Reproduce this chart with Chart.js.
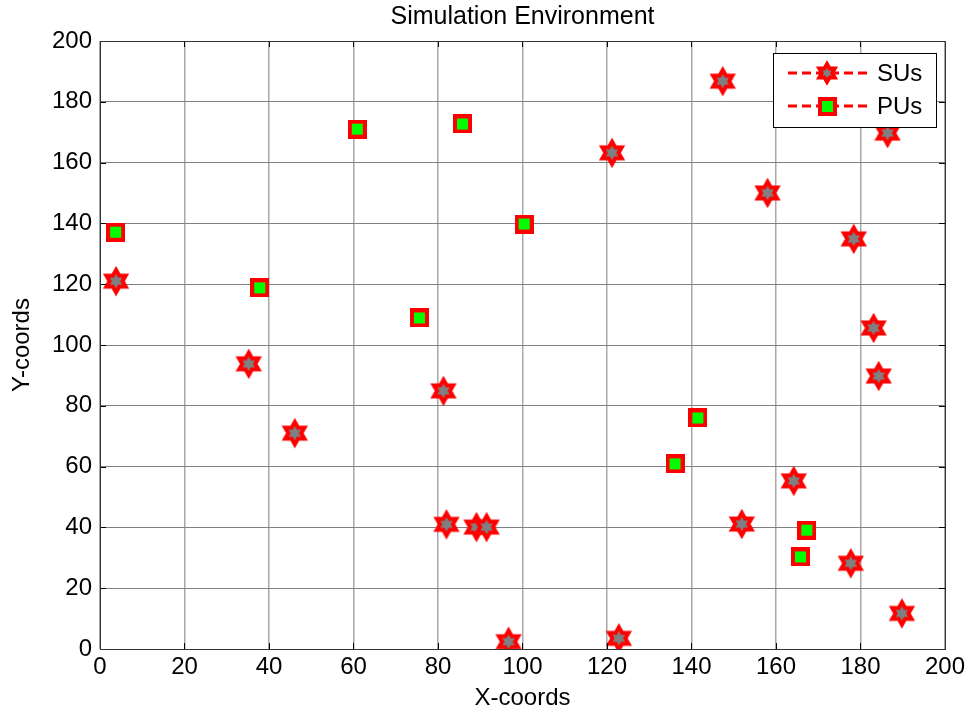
<!DOCTYPE html>
<html>
<head>
<meta charset="utf-8">
<script src="https://cdn.jsdelivr.net/npm/chart.js@4.4.1/dist/chart.umd.min.js"></script>
<style>
  html, body { margin: 0; padding: 0; background: #fff; }
  #wrap { width: 969px; height: 713px; }
</style>
</head>
<body>
<div id="wrap"><canvas id="c" width="969" height="713"></canvas></div>
<script>
// ---- data ----
const suX = [3.8, 35.2, 46.1, 81.3, 82.0, 89.1, 91.5, 96.7, 122.8, 121.2, 147.4, 158.0, 178.4, 186.4, 183.1, 184.3, 164.2, 151.9, 177.7, 189.8];
const suY = [121.0, 93.8, 71.0, 84.9, 41.0, 40.1, 40.1, 2.4, 3.5, 163.2, 186.8, 150.0, 134.9, 169.7, 105.6, 89.8, 55.3, 41.1, 28.2, 11.7];
const puX = [3.7, 37.8, 60.9, 75.6, 85.8, 100.4, 136.1, 141.5, 167.3, 165.8];
const puY = [137.1, 118.8, 171.0, 108.9, 172.7, 139.8, 60.9, 76.0, 39.1, 30.3];
const seriesNames = ['SUs', 'PUs'];
const tickValues = [0, 20, 40, 60, 80, 100, 120, 140, 160, 180, 200];
const titleText = 'Simulation Environment';
const xTitle = 'X-coords';
const yTitle = 'Y-coords';

const FONT = '"Liberation Sans", Arial, Helvetica, sans-serif';

// ---- marker images ----
function hexagram(R, w) {
  const c = document.createElement('canvas');
  const half = Math.ceil(R + w + 1);
  c.width = half * 2; c.height = half * 2;
  const g = c.getContext('2d');
  const cx = half, cy = half, r = R / Math.sqrt(3);
  g.beginPath();
  for (let i = 0; i < 12; i++) {
    const a = -Math.PI / 2 + i * Math.PI / 6;
    const rr = i % 2 === 0 ? R : r;
    const px = cx + rr * Math.cos(a), py = cy + rr * Math.sin(a);
    if (i === 0) g.moveTo(px, py); else g.lineTo(px, py);
  }
  g.closePath();
  g.fillStyle = '#808080';
  g.fill();
  g.lineWidth = w;
  g.lineJoin = 'miter';
  g.miterLimit = 10;
  g.strokeStyle = '#ff0000';
  g.stroke();
  return c;
}
function square() {
  const c = document.createElement('canvas');
  c.width = 19; c.height = 19;
  const g = c.getContext('2d');
  g.fillStyle = '#ff0000';
  g.fillRect(0, 0, 19, 19);
  g.fillStyle = '#00ff00';
  g.fillRect(4, 4, 11, 11);
  return c;
}
const starImg = hexagram(11.2, 4);
const legendStarImg = hexagram(9, 3.8);
const sqImg = square();

const suData = suX.map((x, i) => ({ x, y: suY[i] }));
const puData = puX.map((x, i) => ({ x, y: puY[i] }));

// ---- plugin: title over plot area, frame, inward ticks, legend ----
const matlabFrame = {
  id: 'matlabFrame',
  afterDraw(chart) {
    const { ctx, chartArea: a, scales } = chart;
    ctx.save();
    // title centred over the axes
    ctx.fillStyle = '#000';
    ctx.font = '25px ' + FONT;
    ctx.textAlign = 'center';
    ctx.textBaseline = 'middle';
    ctx.fillText(titleText, (a.left + a.right) / 2, 17);
    // inward ticks
    ctx.strokeStyle = '#000';
    ctx.lineWidth = 1;
    const tl = 6;
    tickValues.forEach(v => {
      const px = Math.round(scales.x.getPixelForValue(v)) + 0.5;
      const py = Math.round(scales.y.getPixelForValue(v)) + 0.5;
      ctx.beginPath();
      ctx.moveTo(px, a.bottom); ctx.lineTo(px, a.bottom - tl);
      ctx.moveTo(px, a.top); ctx.lineTo(px, a.top + tl);
      ctx.moveTo(a.left, py); ctx.lineTo(a.left + tl, py);
      ctx.moveTo(a.right, py); ctx.lineTo(a.right - tl, py);
      ctx.stroke();
    });
    ctx.strokeStyle = '#333';
    ctx.strokeRect(Math.round(a.left) + 0.5, Math.round(a.top) + 0.5,
                   Math.round(a.right - a.left), Math.round(a.bottom - a.top));
    // legend
    const bx = 773, by = 53, bw = 163, bh = 74;
    ctx.fillStyle = '#fff';
    ctx.fillRect(bx, by, bw, bh);
    ctx.strokeStyle = '#000';
    ctx.strokeRect(bx + 0.5, by + 0.5, bw, bh);
    const rows = [{ y: 73, img: legendStarImg, name: seriesNames[0] }, { y: 106, img: sqImg, name: seriesNames[1] }];
    rows.forEach(r => {
      ctx.strokeStyle = '#ff0000';
      ctx.lineWidth = 3;
      ctx.setLineDash([9, 5]);
      ctx.beginPath();
      ctx.moveTo(788, r.y); ctx.lineTo(867, r.y);
      ctx.stroke();
      ctx.setLineDash([]);
      ctx.drawImage(r.img, Math.round(827 - r.img.width / 2), Math.round(r.y - r.img.height / 2));
      ctx.fillStyle = '#000';
      ctx.font = '24px ' + FONT;
      ctx.textAlign = 'left';
      ctx.textBaseline = 'middle';
      ctx.fillText(r.name, 877, r.y + 1);
    });
    ctx.restore();
  }
};

new Chart(document.getElementById('c'), {
  type: 'scatter',
  data: {
    datasets: [
      { label: seriesNames[0], data: suData, pointStyle: starImg, showLine: false },
      { label: seriesNames[1], data: puData, pointStyle: sqImg, showLine: false }
    ]
  },
  options: {
    responsive: false,
    animation: false,
    devicePixelRatio: 1,
    layout: { padding: { left: 0, right: 22, top: 41, bottom: 0 } },
    plugins: {
      legend: { display: false },
      tooltip: { enabled: false },
      title: { display: false }
    },
    scales: {
      x: {
        type: 'linear', min: 0, max: 200,
        afterBuildTicks(s) { s.ticks = tickValues.map(v => ({ value: v })); },
        afterFit(s) { s.height = 64; },
        grid: { color: '#a8a8a8', lineWidth: 1.5, drawTicks: false },
        border: { display: true, color: '#333' },
        ticks: { color: '#000', font: { family: FONT, size: 24 }, padding: 4, maxRotation: 0 },
        title: { display: true, text: xTitle, color: '#000', font: { family: FONT, size: 24 }, padding: { top: 0, bottom: 0 } }
      },
      y: {
        type: 'linear', min: 0, max: 200,
        afterBuildTicks(s) { s.ticks = tickValues.map(v => ({ value: v })); },
        afterFit(s) { s.width = 100; },
        grid: { color: '#808080', lineWidth: 1, drawTicks: false },
        border: { display: true, color: '#333' },
        ticks: { color: '#000', font: { family: FONT, size: 24 }, padding: 8 },
        title: { display: true, text: yTitle, color: '#000', font: { family: FONT, size: 24 }, padding: { top: 8, bottom: 0 } }
      }
    }
  },
  plugins: [matlabFrame]
});
</script>
</body>
</html>
